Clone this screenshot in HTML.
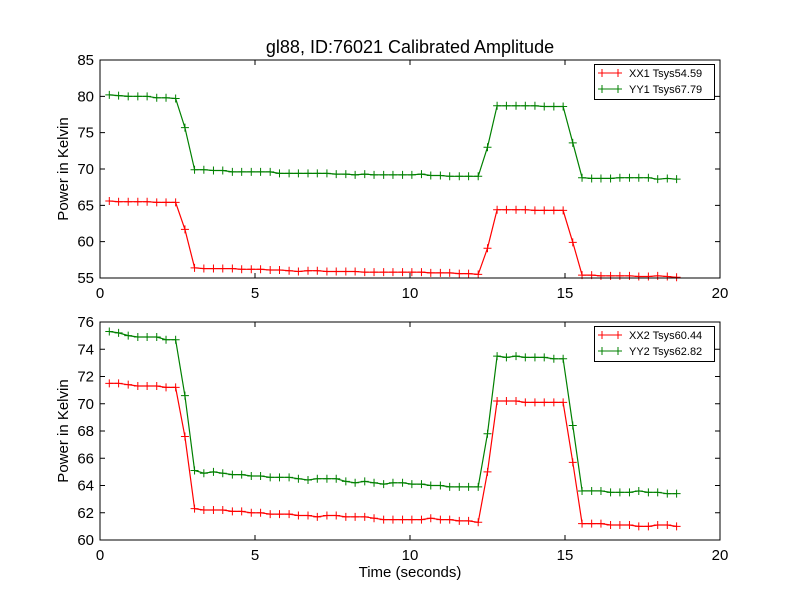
<!DOCTYPE html>
<html><head><meta charset="utf-8"><style>
body{margin:0;background:#fff}
svg text{font-family:"Liberation Sans","DejaVu Sans",sans-serif}
</style></head><body>
<svg id="fig" width="800" height="600" xmlns="http://www.w3.org/2000/svg">
<rect width="800" height="600" fill="#fff"/>
<text x="410" y="53" font-size="18" text-anchor="middle">gl88, ID:76021 Calibrated Amplitude</text>
</svg>
<script>
const times=[0.3,0.6,0.91,1.22,1.52,1.83,2.13,2.44,2.74,3.05,3.35,3.66,3.96,4.27,4.57,4.88,5.18,5.49,5.79,6.1,6.4,6.71,7.01,7.32,7.62,7.93,8.23,8.54,8.84,9.15,9.45,9.76,10.06,10.37,10.67,10.98,11.28,11.59,11.89,12.2,12.5,12.81,13.11,13.42,13.72,14.03,14.33,14.64,14.94,15.25,15.55,15.86,16.16,16.47,16.77,17.08,17.38,17.69,17.99,18.3,18.6];
const xx1=[65.6,65.5,65.5,65.5,65.5,65.4,65.4,65.4,61.7,56.4,56.3,56.3,56.3,56.3,56.2,56.2,56.2,56.1,56.1,56.0,55.9,56.0,56.0,55.9,55.9,55.9,55.9,55.8,55.8,55.8,55.8,55.8,55.8,55.8,55.7,55.7,55.7,55.6,55.6,55.5,59.1,64.4,64.4,64.4,64.4,64.3,64.3,64.3,64.3,59.9,55.4,55.4,55.3,55.3,55.3,55.3,55.2,55.2,55.3,55.2,55.1];
const yy1=[80.2,80.1,80.0,80.0,80.0,79.8,79.8,79.7,75.7,69.9,69.9,69.8,69.8,69.6,69.6,69.6,69.6,69.6,69.4,69.4,69.4,69.4,69.4,69.4,69.3,69.3,69.2,69.3,69.2,69.2,69.2,69.2,69.2,69.3,69.1,69.1,69.0,69.0,69.0,69.0,73.0,78.7,78.7,78.7,78.7,78.7,78.6,78.6,78.6,73.6,68.8,68.7,68.7,68.7,68.8,68.8,68.8,68.8,68.6,68.7,68.6];
const xx2=[71.5,71.5,71.4,71.3,71.3,71.3,71.2,71.2,67.6,62.3,62.2,62.2,62.2,62.1,62.1,62.0,62.0,61.9,61.9,61.9,61.8,61.8,61.7,61.8,61.8,61.7,61.7,61.7,61.6,61.5,61.5,61.5,61.5,61.5,61.6,61.5,61.5,61.4,61.4,61.3,65.0,70.2,70.2,70.2,70.1,70.1,70.1,70.1,70.1,65.7,61.2,61.2,61.2,61.1,61.1,61.1,61.0,61.0,61.1,61.1,61.0];
const yy2=[75.3,75.2,75.0,74.9,74.9,74.9,74.7,74.7,70.6,65.1,64.9,65.0,64.9,64.8,64.8,64.7,64.7,64.6,64.6,64.6,64.5,64.4,64.5,64.5,64.5,64.3,64.2,64.3,64.2,64.1,64.2,64.2,64.1,64.1,64.0,64.0,63.9,63.9,63.9,63.9,67.8,73.5,73.4,73.5,73.4,73.4,73.4,73.3,73.3,68.4,63.6,63.6,63.6,63.5,63.5,63.5,63.6,63.5,63.5,63.4,63.4];
const xTicks=[0,5,10,15,20];
const yTicksTop=[55,60,65,70,75,80,85];
const yTicksBot=[60,62,64,66,68,70,72,74,76];
const legTop=["XX1 Tsys54.59","YY1 Tsys67.79"];
const legBot=["XX2 Tsys60.44","YY2 Tsys62.82"];
const NS="http://www.w3.org/2000/svg";
const svg=document.getElementById('fig');
function mk(tag,attrs,parent){const e=document.createElementNS(NS,tag);for(const k in attrs)e.setAttribute(k,attrs[k]);(parent||svg).appendChild(e);return e;}
function panel(top,bottom,ymin,ymax,yTicks,series,legend,id,showXLabel){
  const L=100,R=720;
  const sx=v=>L+(v-0)/(20-0)*(R-L);
  const sy=v=>bottom-(v-ymin)/(ymax-ymin)*(bottom-top);
  const g=mk('g',{});
  
  
  series.forEach(s=>{
    const sg=mk('g',{},g);
    
    
    const pts=times.map((t,i)=>sx(t).toFixed(1)+','+sy(s.vals[i]).toFixed(1)).join(' ');
    const pl=mk('polyline',{points:pts,fill:'none',stroke:s.color,'stroke-width':1.2},sg);
    
    
    times.forEach((t,i)=>{
      const x=sx(t),y=sy(s.vals[i]);
      const m=mk('path',{d:`M${x-4},${y}H${x+4}M${x},${y-4}V${y+4}`,stroke:s.color,'stroke-width':1},sg);
      
      
    });
  });
  const fr=mk('rect',{x:L,y:top,width:R-L,height:bottom-top,fill:'none',stroke:'#000','stroke-width':1},g);
  
  
  xTicks.forEach(v=>{
    const x=sx(v);
    mk('path',{d:`M${x},${bottom}v-5M${x},${top}v5`,stroke:'#000'},g);
    const tx=mk('text',{x:x,y:bottom+20,'font-size':15,'text-anchor':'middle'},g);
    tx.textContent=v;
    
    
  });
  yTicks.forEach(v=>{
    const y=sy(v);
    mk('path',{d:`M${L},${y}h5M${R},${y}h-5`,stroke:'#000'},g);
    const tx=mk('text',{x:L-6,y:y+5,'font-size':15,'text-anchor':'end'},g);
    tx.textContent=v;
    
    
  });
  const yl=mk('text',{x:0,y:0,'font-size':15,'text-anchor':'middle',transform:`translate(68,${(top+bottom)/2}) rotate(-90)`},g);
  yl.textContent='Power in Kelvin';
  
  
  const lg=mk('g',{},g);
  
  
  mk('rect',{x:594.5,y:top+4.5,width:120,height:35,fill:'#fff',stroke:'#000'},lg);
  series.forEach((s,i)=>{
    const y=top+13+i*16;
    const e=mk('g',{},lg);
    
    
    mk('path',{d:`M598,${y}H622M602,${y-4}V${y+4}M618,${y-4}V${y+4}`,stroke:s.color},e);
    const t=mk('text',{x:629,y:y+4,'font-size':11},e);
    t.textContent=legend[i];
  });
  if(showXLabel){
    const xl=mk('text',{x:410,y:577,'font-size':15,'text-anchor':'middle'},g);
    xl.textContent='Time (seconds)';
    
    
  }
}
panel(60,278,55,85,yTicksTop,[{name:'XX1',vals:xx1,color:'#ff0000'},{name:'YY1',vals:yy1,color:'#008000'}],legTop,'top',false);
panel(322,540,60,76,yTicksBot,[{name:'XX2',vals:xx2,color:'#ff0000'},{name:'YY2',vals:yy2,color:'#008000'}],legBot,'bottom',true);
</script>
</body></html>
